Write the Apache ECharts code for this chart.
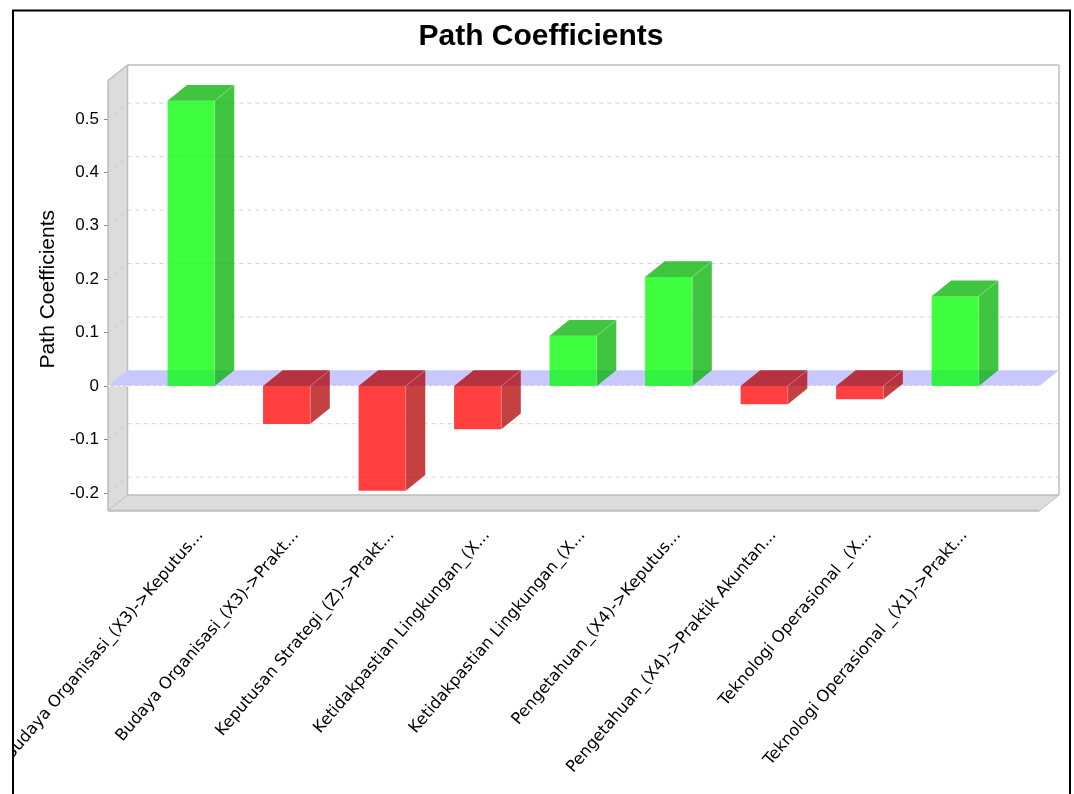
<!DOCTYPE html>
<html><head><meta charset="utf-8">
<style>html,body{margin:0;padding:0;background:#fff}#c{width:1074px;height:794px;filter:blur(0.55px)}</style>
<script src="https://cdn.jsdelivr.net/npm/echarts@6/dist/echarts.min.js"></script>
</head><body><div id="c"></div>
<script>
const categories = [
  'Budaya Organisasi_(X3)->Keputus...',
  'Budaya Organisasi_(X3)->Prakt...',
  'Keputusan Strategi_(Z)->Prakt...',
  'Ketidakpastian Lingkungan_(X...',
  'Ketidakpastian Lingkungan_(X...',
  'Pengetahuan_(X4)->Keputus...',
  'Pengetahuan_(X4)->Praktik Akuntan...',
  'Teknologi Operasional _(X...',
  'Teknologi Operasional _(X1)->Prakt...'
];
const pathCoefficients = [0.534, -0.071, -0.196, -0.081, 0.094, 0.204, -0.034, -0.025, 0.168];
const yTicks = [-0.2, -0.1, 0, 0.1, 0.2, 0.3, 0.4, 0.5];

const DX = 19.5, DY = 15.7;
const PLOT_L = 108, PLOT_R = 1039.5, PLOT_T = 80.7, PLOT_B = 510.7;
const WALL = '#dcdcdc', EDGE = '#bdbdbd', GRIDC = '#d4d4d4';
const poly = (pts, fill, extra) => ({type:'polygon', shape:{points:pts}, style:Object.assign({fill:fill}, extra||{}), silent:true});
const seg = (x1,y1,x2,y2,stroke,dash,w) => ({type:'line', shape:{x1,y1,x2,y2}, style:{stroke, lineWidth:w||1, lineDash:dash||null}, silent:true});

function renderBackdrop(params, api) {
  const ch = [];
  const L = PLOT_L, R = PLOT_R, T = PLOT_T, B = PLOT_B;
  ch.push(poly([[L,T],[L+DX,T-DY],[L+DX,B-DY],[L,B]], WALL));
  ch.push(poly([[L,B],[L+DX,B-DY],[R+DX,B-DY],[R,B]], WALL));
  yTicks.forEach(t => {
    const y = api.coord([0, t])[1];
    if (t !== 0) {
      ch.push(seg(L, y, L+DX, y-DY, '#c8c8c8', [4,4]));
      ch.push(seg(L+DX, y-DY, R+DX, y-DY, GRIDC, [4,4]));
    }
  });
  ch.push(seg(L,T,L+DX,T-DY,EDGE,null,1.5));
  ch.push(seg(L+DX,T-DY,R+DX,T-DY,EDGE,null,1.5));
  ch.push(seg(R+DX,T-DY,R+DX,B-DY,EDGE,null,1.5));
  ch.push(seg(L+DX,T-DY,L+DX,B-DY,EDGE,null,1.5));
  ch.push(seg(L+DX,B-DY,R+DX,B-DY,EDGE,null,1.5));
  ch.push(seg(L,T,L,B,EDGE,null,1.5));
  ch.push(seg(L,B,R,B,EDGE,null,2));
  ch.push(seg(L,B,L+DX,B-DY,EDGE,null,1));
  ch.push(seg(R,B,R+DX,B-DY,EDGE,null,1));
  const z = api.coord([0, 0])[1];
  ch.push(poly([[L,z],[L+DX,z-DY],[R+DX,z-DY],[R,z]], '#c8c8ff'));
  ch.push(seg(L,z,R,z,'#ffffff',[3,3]));
  return {type:'group', children:ch, silent:true};
}

function renderBar(params, api) {
  const i = api.value(0), v = api.value(1);
  const c = api.coord([i, 0]);
  const bw = api.size([1, 0])[0] * 0.4945;
  const yv = api.coord([i, v])[1], y0 = c[1];
  const top = Math.min(yv, y0), bot = Math.max(yv, y0);
  const x0 = c[0] - bw/2, x1 = c[0] + bw/2;
  const front = v >= 0 ? 'rgb(0,255,0)' : 'rgb(255,0,0)';
  const dark = v >= 0 ? 'rgb(0,178,0)' : 'rgb(178,0,0)';
  const o = {opacity:0.75};
  const hl = 'rgba(255,255,255,0.22)';
  return {type:'group', children:[
    poly([[x0,top],[x1,top],[x1,bot],[x0,bot]], front, o),
    poly([[x1,top],[x1+DX,top-DY],[x1+DX,bot-DY],[x1,bot]], dark, o),
    poly([[x0,top],[x0+DX,top-DY],[x1+DX,top-DY],[x1,top]], dark, o),
    seg(x1,top,x1+DX,top-DY,hl),
    seg(x1,top,x1,bot,hl)
  ]};
}

const chart = echarts.init(document.getElementById('c'));
chart.setOption({
  animation:false,
  backgroundColor:'#ffffff',
  title:{text:'Path Coefficients', left:536, top:17, textAlign:'center',
    textStyle:{fontFamily:'Liberation Sans', fontWeight:'bold', fontSize:30, color:'#000'}},
  grid:{left:143.4, width:859.6, top:PLOT_T, height:PLOT_B-PLOT_T, outerBoundsMode:'none'},
  xAxis:{type:'category', data:categories, axisLine:{show:false}, axisTick:{show:false}, splitLine:{show:false},
    axisLabel:{interval:0, rotate:49.5, margin:14, align:'right', verticalAlign:'top', lineHeight:24,
      fontFamily:'DejaVu Sans', fontSize:16.3, color:'#000'}},
  yAxis:{type:'value', min:-0.2334, max:0.5714, offset:35.4,
    name:'Path Coefficients', nameLocation:'middle', nameGap:46,
    nameTextStyle:{fontFamily:'Liberation Sans', fontSize:21, color:'#000', padding:[0,0,0,13]},
    axisLine:{show:false}, splitLine:{show:false},
    axisTick:{show:true, length:4, customValues:yTicks, lineStyle:{color:'#888'}},
    axisLabel:{customValues:yTicks, margin:9, fontFamily:'Liberation Sans', fontSize:17, color:'#000',
      formatter:v => String(v)}},
  series:[
    {type:'custom', name:'backdrop', coordinateSystem:'cartesian2d', z:1, silent:true, clip:false,
      data:[[0,0]], encode:{x:0,y:1}, renderItem:renderBackdrop},
    {type:'custom', name:'Path Coefficients', coordinateSystem:'cartesian2d', z:3, clip:false,
      data:pathCoefficients.map((v,i)=>[i,v]), encode:{x:0,y:1}, renderItem:renderBar}
  ],
  graphic:[
    {type:'rect', z:100, silent:true, shape:{x:0,y:0,width:12,height:794}, style:{fill:'#fff'}},
    {type:'polyline', z:101, silent:true, shape:{points:[[13,794],[13,10.5],[1070,10.5],[1070,794]]},
      style:{stroke:'#000', lineWidth:2, fill:null}}
  ]
});
</script></body></html>
